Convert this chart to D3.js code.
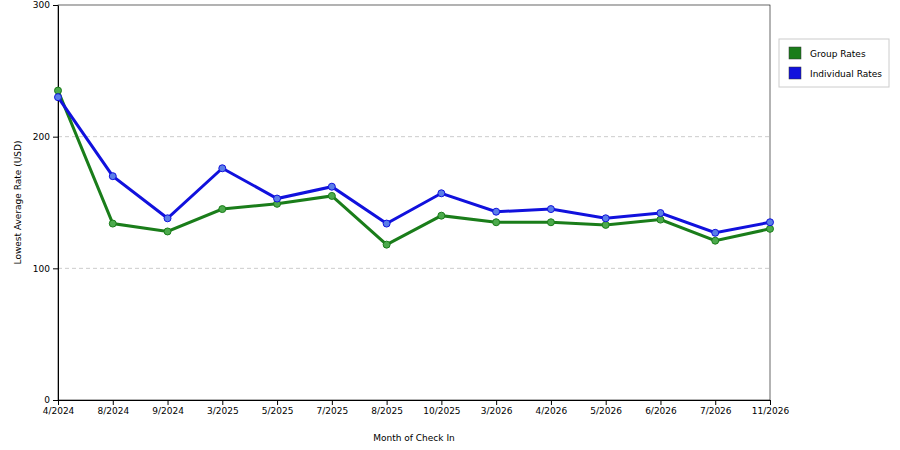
<!DOCTYPE html><html><head><meta charset="utf-8">
<script src="https://cdn.jsdelivr.net/npm/d3@7"></script>
<style>body{margin:0;background:#fff;font-family:"DejaVu Sans",sans-serif}</style></head><body>
<svg id="c" width="900" height="450"></svg>
<script>
const months=["4/2024","8/2024","9/2024","3/2025","5/2025","7/2025","8/2025","10/2025","3/2026","4/2026","5/2026","6/2026","7/2026","11/2026"];
const groupRates=[235,134,128,145,149,155,118,140,135,135,133,137,121,130];
const individualRates=[230,170,138,176,153,162,134,157,143,145,138,142,127,135];
const yTicks=[0,100,200,300];
const svg=d3.select("#c");
const L=58,R=770,T=5,B=400;
const x=d3.scalePoint().domain(months).range([L,R]);
const y=d3.scaleLinear().domain([0,300]).range([B,T]);
svg.append("g").selectAll("line").data([100,200]).join("line")
 .attr("x1",L).attr("x2",R).attr("y1",d=>y(d)).attr("y2",d=>y(d))
 .attr("stroke","#ccc").attr("stroke-dasharray","4,3");
svg.append("rect").attr("x",L).attr("y",T).attr("width",R-L).attr("height",B-T).attr("fill","none").attr("stroke","#000").attr("stroke-width",0.6);
const ax=svg.append("g").attr("transform",`translate(0,${B})`).call(d3.axisBottom(x).tickSize(5).tickSizeOuter(0));
const ay=svg.append("g").attr("transform",`translate(${L},0)`).call(d3.axisLeft(y).tickValues(yTicks).tickSize(5).tickSizeOuter(0));
[ax,ay].forEach(a=>{a.selectAll("text").attr("font-size",9).attr("font-family","DejaVu Sans").attr("fill","#000");a.select(".domain").attr("stroke","#000");});
svg.append("text").attr("x",(L+R)/2).attr("y",441).attr("text-anchor","middle").attr("font-size",9).text("Month of Check In");
svg.append("text").attr("transform",`translate(21,${(T+B)/2}) rotate(-90)`).attr("text-anchor","middle").attr("font-size",9).text("Lowest Average Rate (USD)");
const line=d3.line().x((d,i)=>x(months[i])).y(d=>y(d));
[[groupRates,"#1a7d1a","#4caa4c"],[individualRates,"#1111dd","#5a7ee8"]].forEach(([data,c,p])=>{
 svg.append("path").datum(data).attr("d",line).attr("fill","none").attr("stroke",c).attr("stroke-width",3);
 svg.append("g").selectAll("circle").data(data).join("circle").attr("cx",(d,i)=>x(months[i])).attr("cy",d=>y(d)).attr("r",3.5).attr("fill",p).attr("stroke",c).attr("stroke-width",1);
});
const lg=svg.append("g");
lg.append("rect").attr("x",779).attr("y",39).attr("width",110).attr("height",48).attr("fill","#fff").attr("stroke","#ccc");
[["Group Rates","#1a7d1a"],["Individual Rates","#1111dd"]].forEach(([t,c],i)=>{
 lg.append("rect").attr("x",789).attr("y",47+i*20).attr("width",12).attr("height",12).attr("fill",c).attr("stroke","#333").attr("stroke-width",0.5);
 lg.append("text").attr("x",810).attr("y",57+i*20).attr("font-size",9).text(t);
});
</script></body></html>
